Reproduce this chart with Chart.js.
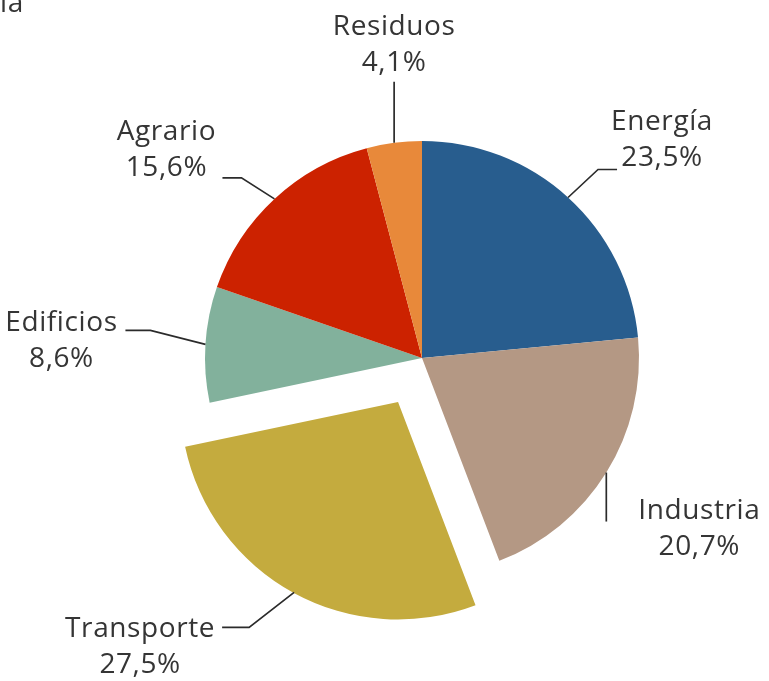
<!DOCTYPE html>
<html>
<head>
<meta charset="utf-8">
<script src="https://cdn.jsdelivr.net/npm/chart.js@4/dist/chart.umd.min.js"></script>
<style>
  html, body { margin: 0; padding: 0; background: #fff; }
  #wrap { width: 769px; height: 681px; position: relative; }
</style>
</head>
<body>
<div id="wrap"><canvas id="c" width="769" height="681"></canvas></div>
<script>
// Emisiones por sector (%)
const sectors = ['Energía', 'Industria', 'Transporte', 'Edificios', 'Agrario', 'Residuos'];
const shares = [23.5, 20.7, 27.5, 8.6, 15.6, 4.1];
const sliceColors = ['#285d8e', '#b49884', '#c4ab3e', '#82b19c', '#cc2200', '#e8893a'];
// pull-out distance of each slice in pixels
const explode = [0, 0, 50, 0, 0, 0];

// Leader lines and label placement, relative to the mid-point of each slice's rim.
const leaders = [
  { path: [[30, -28], [49, -28]],   text: [94, -57] },   // Energía
  { path: [[0, 49]],                text: [93, 56] },    // Industria
  { path: [[-45, 35], [-72, 35]],   text: [-154, 55] },  // Transporte
  { path: [[-55, -14], [-80, -14]], text: [-144, -3] },  // Edificios
  { path: [[-33, -21], [-52, -21]], text: [-108, -49] }, // Agrario
  { path: [[0, -61]],               text: [0, -98] }     // Residuos
];

const FONT = '28px "Open Sans", Lato, sans-serif';
const fmt = v => v.toFixed(1).replace('.', ',') + '%';

const labelPlugin = {
  id: 'sectorLabels',
  afterDatasetsDraw(chart) {
    const ctx = chart.ctx;
    const meta = chart.getDatasetMeta(0);
    ctx.save();
    ctx.letterSpacing = '0.6px';
    meta.data.forEach((arc, i) => {
      const p = arc.getProps(['x', 'y', 'startAngle', 'endAngle', 'outerRadius'], true);
      const mid = (p.startAngle + p.endAngle) / 2;
      const off = explode[i];
      const cx = p.x + Math.cos(mid) * off;
      const cy = p.y + Math.sin(mid) * off;
      const ax = cx + Math.cos(mid) * p.outerRadius;
      const ay = cy + Math.sin(mid) * p.outerRadius;
      const L = leaders[i];
      ctx.strokeStyle = '#2b2b2b';
      ctx.lineWidth = 1.7;
      ctx.beginPath();
      ctx.moveTo(ax, ay);
      L.path.forEach(([dx, dy]) => ctx.lineTo(ax + dx, ay + dy));
      ctx.stroke();
      ctx.fillStyle = '#353535';
      ctx.font = FONT;
      ctx.textAlign = 'center';
      ctx.textBaseline = 'middle';
      const tx = ax + L.text[0];
      const ty = ay + L.text[1];
      ctx.fillText(sectors[i], tx, ty - 18);
      ctx.fillText(fmt(shares[i]), tx, ty + 18);
    });
    // clipped heading fragment at the top-left edge
    ctx.fillStyle = '#353535';
    ctx.font = FONT;
    ctx.textAlign = 'left';
    ctx.textBaseline = 'alphabetic';
    ctx.fillText('ía', 0, 12);
    ctx.restore();
  }
};

new Chart(document.getElementById('c'), {
  type: 'pie',
  data: {
    labels: sectors,
    datasets: [{
      data: shares,
      backgroundColor: sliceColors,
      borderWidth: 0,
      // arcs translate by offset / 4
      offset: explode.map(d => d * 4),
      radius: 217
    }]
  },
  options: {
    responsive: false,
    animation: false,
    layout: { padding: { left: 100, right: 25, top: 60, bottom: 25 } },
    plugins: {
      legend: { display: false },
      tooltip: { enabled: false }
    }
  },
  plugins: [labelPlugin]
});
</script>
</body>
</html>
